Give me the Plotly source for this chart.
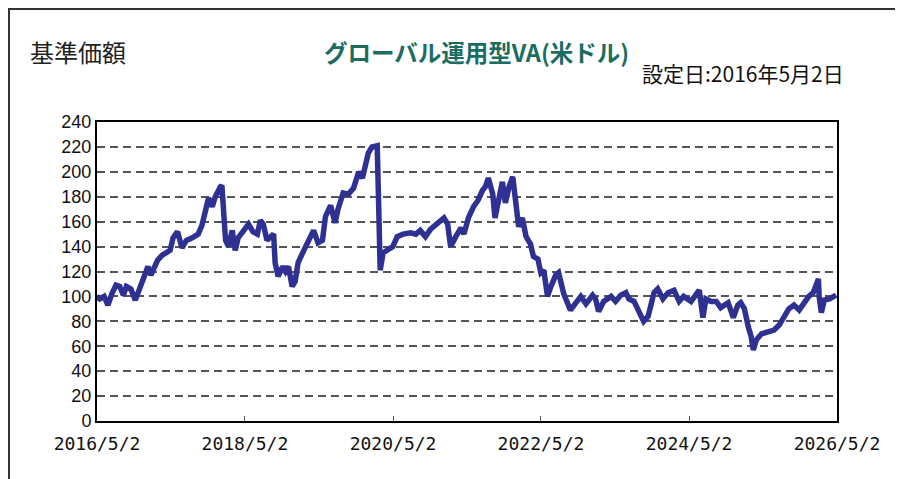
import datetime as dt
import plotly.graph_objects as go

# time in decimal years
t_years = [
    2016.33, 2016.37, 2016.43, 2016.48, 2016.54, 2016.59, 2016.64, 2016.69, 2016.73, 2016.79,
    2016.85, 2016.90, 2016.96, 2017.02, 2017.06, 2017.15, 2017.21, 2017.27, 2017.32, 2017.36,
    2017.42, 2017.48, 2017.54, 2017.62, 2017.70, 2017.75, 2017.79, 2017.84, 2017.89, 2017.93,
    2018.00, 2018.02, 2018.07, 2018.11, 2018.16, 2018.20, 2018.24, 2018.31, 2018.38, 2018.44,
    2018.50, 2018.54, 2018.58, 2018.63, 2018.67, 2018.72, 2018.74, 2018.78, 2018.84, 2018.88,
    2018.92, 2018.97, 2019.01, 2019.05, 2019.12, 2019.19, 2019.26, 2019.32, 2019.38, 2019.42,
    2019.49, 2019.55, 2019.59, 2019.66, 2019.73, 2019.80, 2019.87, 2019.92, 2019.96, 2020.00,
    2020.05, 2020.12, 2020.14, 2020.16, 2020.20, 2020.26, 2020.33, 2020.39, 2020.47, 2020.57,
    2020.64, 2020.70, 2020.77, 2020.84, 2020.91, 2020.98, 2021.02, 2021.07, 2021.11, 2021.18,
    2021.25, 2021.29, 2021.35, 2021.42, 2021.48, 2021.54, 2021.58, 2021.62, 2021.68, 2021.71,
    2021.75, 2021.81, 2021.85, 2021.90, 2021.95, 2021.99, 2022.03, 2022.08, 2022.13, 2022.19,
    2022.23, 2022.29, 2022.33, 2022.37, 2022.42, 2022.46, 2022.53, 2022.57, 2022.64, 2022.73,
    2022.80, 2022.87, 2022.94, 2023.03, 2023.07, 2023.11, 2023.18, 2023.28, 2023.34, 2023.41,
    2023.48, 2023.52, 2023.59, 2023.65, 2023.72, 2023.78, 2023.82, 2023.86, 2023.91, 2023.98,
    2024.05, 2024.13, 2024.20, 2024.26, 2024.36, 2024.43, 2024.47, 2024.52, 2024.56, 2024.63,
    2024.70, 2024.76, 2024.86, 2024.93, 2024.99, 2025.03, 2025.08, 2025.13, 2025.17, 2025.20,
    2025.24, 2025.31, 2025.40, 2025.48, 2025.55, 2025.62, 2025.68, 2025.75, 2025.82, 2025.89,
    2025.95, 2026.01, 2026.08, 2026.09, 2026.12, 2026.16, 2026.23, 2026.29, 2026.32,
]

nav = [
    100, 98, 100, 93, 103, 109, 108, 101, 108, 106,
    97, 105, 117, 124, 117, 129, 133, 135, 137, 147,
    152, 139, 145, 147, 150, 157, 169, 179, 172, 180,
    188, 189, 145, 140, 153, 137, 147, 153, 158, 152,
    150, 161, 158, 145, 148, 150, 127, 116, 124, 120,
    124, 108, 112, 127, 136, 145, 153, 143, 145, 164,
    173, 159, 170, 183, 182, 187, 200, 195, 204, 215,
    220, 221, 172, 121, 135, 137, 140, 148, 150, 151,
    150, 153, 148, 154, 157, 161, 163, 158, 140, 148,
    155, 150, 163, 172, 177, 185, 188, 195, 182, 163,
    175, 192, 175, 188, 196, 175, 156, 163, 148, 142,
    132, 130, 119, 121, 100, 107, 117, 119, 102, 89,
    94, 100, 94, 101, 98, 88, 96, 100, 96, 101,
    103, 98, 96, 89, 80, 84, 96, 103, 106, 98,
    103, 105, 96, 100, 96, 103, 105, 83, 98, 96,
    96, 91, 95, 83, 93, 95, 90, 76, 68, 57,
    65, 70, 72, 73, 77, 84, 90, 93, 89, 95,
    100, 103, 114, 100, 87, 97, 98, 100, 101,
]

y_ticks = [0, 20, 40, 60, 80, 100, 120, 140, 160, 180, 200, 220, 240]
x_tick_dates = ["2016-05-02", "2018-05-02", "2020-05-02", "2022-05-02", "2024-05-02", "2026-05-02"]
x_tick_labels = ["2016/5/2", "2018/5/2", "2020/5/2", "2022/5/2", "2024/5/2", "2026/5/2"]

title_text = "グローバル運用型VA(米ドル)"
left_label = "基準価額"
setup_text = "設定日:2016年5月2日"


def to_date(d):
    y = int(d)
    start = dt.datetime(y, 1, 1)
    end = dt.datetime(y + 1, 1, 1)
    return start + (end - start) * (d - y)


dates = [to_date(d) for d in t_years]

fig = go.Figure()
fig.add_trace(go.Scatter(
    x=dates, y=nav, mode="lines",
    line=dict(color="#2e3192", width=5.5),
    showlegend=False, hoverinfo="x+y",
))

# the page body adds an 8px offset; positions below are in page pixels
OFF = 8
W, H = 903 - OFF, 479 - OFF
L, R, T, B = 97 - OFF, 66, 122 - OFF, 58
pw, ph = W - L - R, H - T - B


def px(x):
    return (x - OFF - L) / pw


def py(y):
    return (H - B - (y - OFF)) / ph


fig.update_layout(
    width=W, height=H,
    margin=dict(l=L, r=R, t=T, b=B, pad=0),
    paper_bgcolor="white", plot_bgcolor="white",
    xaxis=dict(
        type="date",
        range=["2016-05-02", "2026-05-02"],
        tickvals=x_tick_dates, ticktext=x_tick_labels,
        showgrid=False, zeroline=False,
        showline=True, linecolor="black", linewidth=2, mirror=True,
        ticks="inside", ticklen=5, tickwidth=1, tickcolor="#555",
        tickfont=dict(family="DejaVu Sans Mono", size=18, color="#111"),
        ticklabelstandoff=5,
    ),
    yaxis=dict(
        range=[0, 240], tickvals=y_ticks,
        showgrid=True, gridcolor="#555", gridwidth=1.8, griddash="8px,5px",
        zeroline=False,
        showline=True, linecolor="black", linewidth=2, mirror=True,
        ticks="", tickfont=dict(family="Liberation Sans, Arial", size=18, color="#111"),
        ticklabelstandoff=0,
    ),
    annotations=[
        dict(text=left_label, xref="paper", yref="paper", x=px(28), y=py(52),
             xanchor="left", yanchor="middle", showarrow=False,
             font=dict(family="Noto Sans CJK JP", size=24, color="#222")),
        dict(text="<b>" + title_text + "</b>", xref="paper", yref="paper", x=px(476), y=py(52),
             xanchor="center", yanchor="middle", showarrow=False,
             font=dict(family="Noto Sans CJK JP", size=23.5, color="#1b6d62")),
        dict(text=setup_text, xref="paper", yref="paper", x=px(846), y=py(73),
             xanchor="right", yanchor="middle", showarrow=False,
             font=dict(family="Noto Sans CJK JP", size=21, color="#111")),
    ],
    shapes=[
        dict(type="rect", xref="paper", yref="paper",
             x0=px(9), x1=px(899), y0=py(495), y1=py(9),
             line=dict(color="#333", width=2), fillcolor="rgba(0,0,0,0)", layer="below"),
    ],
)

fig.write_html("out.html")
